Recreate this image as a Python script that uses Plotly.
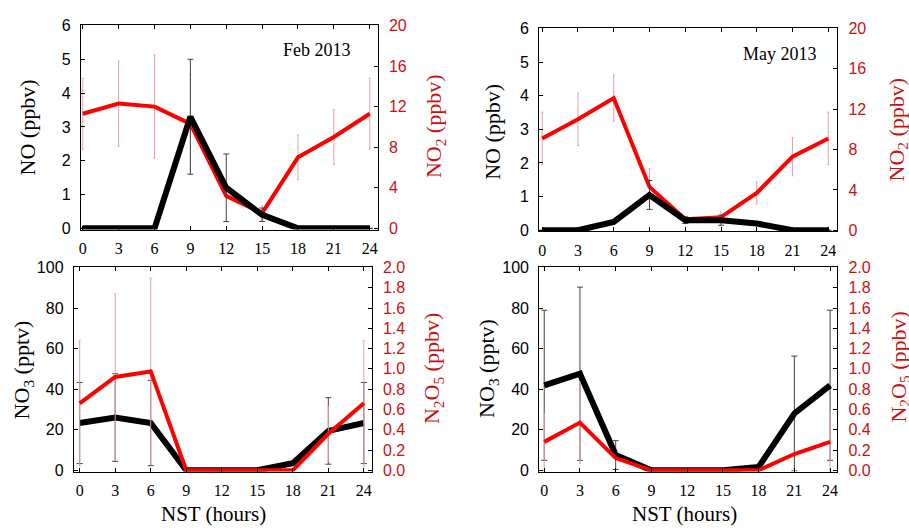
import plotly.graph_objects as go

hours = [0, 3, 6, 9, 12, 15, 18, 21, 24]

# Feb 2013
feb_no = [0, 0, 0, 3.3, 1.2, 0.4, 0, 0, 0]
feb_no_err = [None, None, None, 1.7, 1.0, 0.2, None, None, None]
feb_no2 = [11.3, 12.3, 12.0, 10.3, 3.2, 1.5, 7.0, 9.0, 11.3]
feb_no2_err = [3.5, 4.2, 5.1, 4.9, None, 0.7, 2.2, 2.7, 3.5]
feb_no3 = [23.3, 26.0, 23.3, 0, 0, 0, 3.5, 19.4, 23.3]
feb_no3_err = [20.0, 21.6, 21.0, None, None, None, None, 16.4, 20.0]
feb_n2o5 = [0.66, 0.92, 0.975, 0, 0, 0, 0, 0.36, 0.66]
feb_n2o5_err = [0.62, 0.82, 0.92, None, None, None, None, 0.27, 0.62]

# May 2013
may_no = [0, 0, 0.25, 1.05, 0.3, 0.3, 0.2, 0, 0]
may_no_err = [None, None, None, 0.43, 0.1, 0.15, None, None, None]
may_no2 = [9.1, 11.0, 13.1, 4.3, 1.1, 1.3, 3.7, 7.3, 9.1]
may_no2_err = [2.6, 2.6, 2.3, 1.8, None, 0.5, 1.1, 1.9, 2.6]
may_no3 = [41.9, 47.6, 7.5, 0, 0, 0, 1.6, 28.0, 41.9]
may_no3_err = [37.0, 42.7, 7.1, None, None, None, None, 28.3, 37.0]
may_n2o5 = [0.28, 0.47, 0.12, 0, 0, 0, 0, 0.16, 0.28]
may_n2o5_err = [0.28, 0.4, None, None, None, None, None, None, 0.28]

xticks = hours
no_ticks = [0, 1, 2, 3, 4, 5, 6]
no2_ticks = [0, 4, 8, 12, 16, 20]
no3_ticks = [0, 20, 40, 60, 80, 100]
n2o5_ticks = [0.0, 0.2, 0.4, 0.6, 0.8, 1.0, 1.2, 1.4, 1.6, 1.8, 2.0]

W, H = 909, 530
RED = "#ff0000"
DRED = "#cc1010"
PINK = "#eaa0a0"
SERIF = "Liberation Serif, Times New Roman, serif"
SANS = "Liberation Sans, Arial, sans-serif"


def px(x):
    return x / W


def py(y):
    return 1 - y / H


fig = go.Figure()


def black_trace(y, err, xa, ya):
    fig.add_trace(go.Scatter(
        x=hours, y=y, xaxis=xa, yaxis=ya, mode="lines",
        line=dict(color="black", width=6),
        error_y=dict(type="data", array=err, visible=True, color="#444444",
                     thickness=1, width=3),
        showlegend=False))


def red_trace(y, err, xa, ya):
    fig.add_trace(go.Scatter(
        x=hours, y=y, xaxis=xa, yaxis=ya, mode="lines",
        line=dict(color=RED, width=4),
        error_y=dict(type="data", array=err, visible=True, color=PINK,
                     thickness=1, width=1),
        showlegend=False))


# Top-left: y (NO2, right, base) ; y2 (NO, left, overlay -> drawn on top)
red_trace(feb_no2, feb_no2_err, "x", "y")
black_trace(feb_no, feb_no_err, "x", "y2")
# Top-right
red_trace(may_no2, may_no2_err, "x2", "y3")
black_trace(may_no, may_no_err, "x2", "y4")
# Bottom-left: y5 NO3 left base, y6 N2O5 right overlay
black_trace(feb_no3, feb_no3_err, "x3", "y5")
red_trace(feb_n2o5, feb_n2o5_err, "x3", "y6")
# Bottom-right
black_trace(may_no3, may_no3_err, "x4", "y7")
red_trace(may_n2o5, may_n2o5_err, "x4", "y8")

axline = dict(showline=True, linecolor="black", linewidth=1, showgrid=False,
              zeroline=False, ticks="inside", ticklen=4, tickcolor="black")


def xaxis(dom, rng, anchor):
    return dict(domain=dom, range=rng, anchor=anchor, mirror="ticks",
                tickvals=xticks, ticktext=[str(v) for v in xticks],
                tickfont=dict(family=SERIF, size=16, color="black"),
                ticklabelstandoff=4, **axline)


def left_y(dom, rng, ticks, anchor, overlay=None, fmt=None):
    d = dict(range=rng, anchor=anchor, side="left", tickvals=ticks,
             ticktext=[(fmt % t) if fmt else str(t) for t in ticks],
             tickfont=dict(family=SANS, size=16, color="black"),
             ticklabelstandoff=6, **axline)
    if overlay:
        d["overlaying"] = overlay
    else:
        d["domain"] = dom
    return d


def right_y(dom, rng, ticks, anchor, overlay=None, fmt=None):
    d = dict(range=rng, anchor=anchor, side="right", tickvals=ticks,
             ticktext=[(fmt % t) if fmt else str(t) for t in ticks],
             tickfont=dict(family=SANS, size=16, color=DRED),
             ticklabelstandoff=7, **axline)
    if overlay:
        d["overlaying"] = overlay
    else:
        d["domain"] = dom
    return d


tl_x = [px(79), px(377)]
tl_y = [py(228), py(18)]
tr_x = [px(539), px(838)]
tr_y = [py(230), py(21)]
bl_x = [px(72), px(371)]
bl_y = [py(477), py(267)]
br_x = [px(539), px(838)]
br_y = [py(477), py(267)]

fig.update_layout(
    width=W, height=H,
    margin=dict(l=0, r=0, t=0, b=0),
    paper_bgcolor="white", plot_bgcolor="white",
    font=dict(family=SERIF),
    xaxis=xaxis(tl_x, [-0.17, 24.67], "y"),
    yaxis=right_y(tl_y, [-0.12, 20], no2_ticks, "x"),
    yaxis2=left_y(tl_y, [-0.036, 6], no_ticks, "x", overlay="y"),
    xaxis2=xaxis(tr_x, [-0.25, 24.75], "y3"),
    yaxis3=right_y(tr_y, [-0.12, 20], no2_ticks, "x2"),
    yaxis4=left_y(tr_y, [-0.036, 6], no_ticks, "x2", overlay="y3"),
    xaxis3=xaxis(bl_x, [-0.5, 24.67], "y5"),
    yaxis5=left_y(bl_y, [-0.6, 100], no3_ticks, "x3"),
    yaxis6=right_y(bl_y, [-0.012, 2.0], n2o5_ticks, "x3", overlay="y5", fmt="%.1f"),
    xaxis4=xaxis(br_x, [-0.42, 24.6], "y7"),
    yaxis7=left_y(br_y, [-0.6, 100], no3_ticks, "x4"),
    yaxis8=right_y(br_y, [-0.012, 2.0], n2o5_ticks, "x4", overlay="y7", fmt="%.1f"),
)


def title(text, x, y, color="black", angle=-90, size=22):
    fig.add_annotation(text=text, x=px(x), y=py(y), xref="paper", yref="paper",
                       showarrow=False, textangle=angle, xanchor="center",
                       yanchor="middle",
                       font=dict(family=SERIF, size=size, color=color))


title("NO (ppbv)", 26, 123)
title("NO<sub>2</sub> (ppbv)", 434, 122, color=DRED)
title("NO (ppbv)", 492, 127)
title("NO<sub>2</sub> (ppbv)", 899, 125, color=DRED)
title("NO<sub>3</sub> (pptv)", 22, 372)
title("N<sub>2</sub>O<sub>5</sub> (ppbv)", 432, 371, color=DRED)
title("NO<sub>3</sub> (pptv)", 487, 371)
title("N<sub>2</sub>O<sub>5</sub> (ppbv)", 900, 370, color=DRED)
title("NST (hours)", 212, 521, angle=0, size=21)
title("NST (hours)", 685, 521, angle=0, size=21)
title("Feb 2013", 316, 43, angle=0, size=18)
title("May 2013", 781, 47, angle=0, size=18)

fig.write_html("out.html")
